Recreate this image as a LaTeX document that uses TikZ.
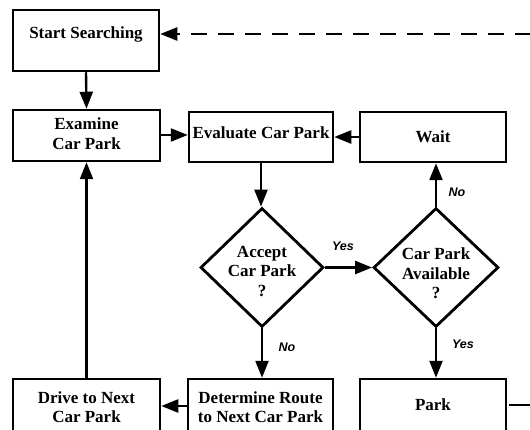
\documentclass[tikz,border=0pt]{standalone}
\usepackage{fontspec}
\setmainfont{Liberation Serif}
\newfontfamily\lblfont{Liberation Sans}
\usetikzlibrary{arrows.meta,shapes.geometric}
\tikzset{
  boxnode/.style={draw=black, line width=2.5pt, rectangle, inner sep=0pt, fill=white},
  diam/.style={draw=black, line width=2.8pt, diamond, inner sep=0pt, fill=white},
  boxtext/.style={font=\bfseries\fontsize{17}{19.5}\selectfont, align=center},
  conn/.style={line width=2.4pt, -{Triangle[length=17pt,width=13pt]}},
  yn/.style={font=\lblfont\bfseries\itshape\fontsize{12.5}{14}\selectfont}
}
\begin{document}
\begin{tikzpicture}[x=1pt,y=-1pt]
\clip (0,0) rectangle (530,430);
\fill[white] (0,0) rectangle (530,430);
% boxes
\node[boxnode, minimum width=146pt, minimum height=61pt,
  label={[boxtext, yshift=6pt, name=startt]center:Start Searching}] (start) at (86,40.5) {};
\node[boxnode, minimum width=147pt, minimum height=51pt,
  label={[boxtext, yshift=2pt, name=examinet]center:Examine\\Car Park}] (examine) at (86.5,135.5) {};
\node[boxnode, minimum width=144pt, minimum height=50pt,
  label={[boxtext, yshift=4pt, name=evaluatet]center:Evaluate Car Park}] (evaluate) at (261,137) {};
\node[boxnode, minimum width=146pt, minimum height=50pt,
  label={[boxtext, name=waitt]center:Wait}] (wait) at (433,137) {};
\node[diam, minimum width=123pt, minimum height=119pt,
  label={[boxtext, yshift=-4pt, name=acceptt]center:Accept\\Car Park\\?}] (accept) at (262,267.5) {};
\node[diam, minimum width=125pt, minimum height=119pt,
  label={[boxtext, yshift=-6pt, name=availt]center:Car Park\\Available\\?}] (avail) at (436,267.5) {};
\node[boxnode, minimum width=147pt, minimum height=56pt,
  label={[boxtext, name=drivet]center:Drive to Next\\Car Park}] (drive) at (86.5,407) {};
\node[boxnode, minimum width=145pt, minimum height=56pt,
  label={[boxtext, name=determinet]center:Determine Route\\to Next Car Park}] (determine) at (260.5,407) {};
\node[boxnode, minimum width=146pt, minimum height=56pt,
  label={[boxtext, yshift=2pt, name=parkt]center:Park}] (park) at (433,407) {};
% free ends
\coordinate (dashend) at (531,34);
\coordinate (parkend) at (531,405);
% connectors
\draw[conn] (start.south) -- (examine.north);
\draw[conn] (drive.north) -- (examine.south);
\draw[conn] (examine.east |- 0,135) -- (evaluate.west |- 0,135);
\draw[conn] (wait.west) -- (evaluate.east);
\draw[conn] (evaluate.south) -- (evaluate.south |- accept.north);
\draw[conn] (accept.east) -- (avail.west);
\draw[conn] (avail.north) -- (avail.north |- wait.south);
\draw[conn] (accept.south) -- (accept.south |- determine.north);
\draw[conn] (avail.south) -- (avail.south |- park.north);
\draw[conn] (determine.west |- 0,406) -- (drive.east |- 0,406);
\draw[conn, dash pattern=on 16pt off 11pt] (dashend) -- (start.east |- dashend);
\draw[line width=2.4pt] (park.east |- parkend) ++(2,0) -- (parkend);
% yes/no labels
\node[yn] (yes1) at (343,246) {Yes};
\node[yn] (no1) at (457,192) {No};
\node[yn] (no2) at (287,347) {No};
\node[yn] (yes2) at (463,344) {Yes};
\end{tikzpicture}
\end{document}
